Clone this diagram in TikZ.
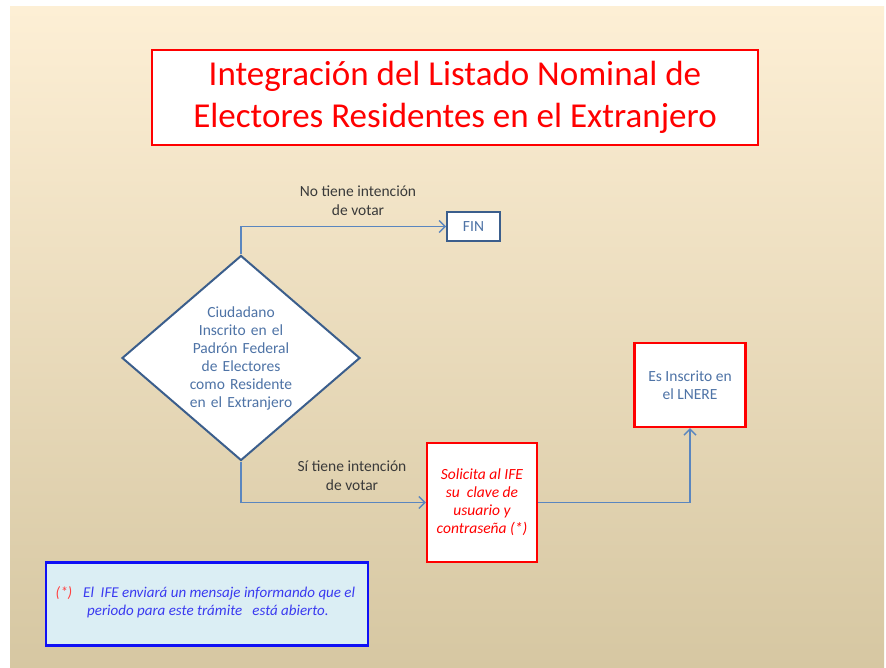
\documentclass[tikz,border=0pt]{standalone}
\usepackage{fontspec}
\setmainfont{Carlito}
\usepackage{tikz}
\usetikzlibrary{arrows,arrows.meta,backgrounds,shapes,positioning,fit}

\definecolor{fondoarriba}{HTML}{FDEFD5}
\definecolor{fondomedio}{HTML}{F3E8CE}
\definecolor{fondoabajo}{HTML}{D6C7A2}
\definecolor{bordeazul}{HTML}{3B5E8C}
\definecolor{textoazul}{HTML}{4E73A6}
\definecolor{lineaazul}{HTML}{5A86BF}
\definecolor{rojo}{HTML}{FF0000}
\definecolor{notafondo}{HTML}{DBEEF4}
\definecolor{notaborde}{HTML}{1010F5}
\definecolor{notatexto}{HTML}{3A3AF0}
\definecolor{etiqueta}{HTML}{3A3A3A}

\begin{document}
\begin{tikzpicture}[
        x=1pt, y=-1pt,
        titlebox/.style={draw=rojo, line width=1.2pt, fill=white, text=rojo,
          minimum width=606pt, minimum height=95pt, align=center,
          font=\fontsize{35}{42}\selectfont},
        pregunta/.style={diamond, aspect=1.16, draw=bordeazul, line width=2pt, fill=white,
          text=textoazul, minimum width=238pt, minimum height=205pt, inner sep=0pt,
          text width=106pt, align=center, font=\fontsize{15.5}{18}\selectfont},
        finbox/.style={draw=bordeazul, line width=1.6pt, fill=white, text=textoazul,
          minimum width=53pt, minimum height=29pt, font=\fontsize{15.5}{18}\selectfont},
        pasobox/.style={draw=rojo, line width=2.4pt, fill=white, align=center,
          font=\fontsize{15.5}{18}\selectfont},
        notabox/.style={draw=notaborde, line width=2.4pt, fill=notafondo,
          minimum width=322pt, minimum height=83pt},
        rotulo/.style={text=etiqueta, align=center, font=\fontsize{15.5}{19}\selectfont},
        flecha/.style={draw=lineaazul, line width=1.4pt,
          -{Straight Barb[length=6pt,width=12pt,line width=1.4pt]}}
      ]
        % fondo
        \fill[white] (0,0) rectangle (886,668);
        \shade[top color=fondoarriba, middle color=fondomedio, bottom color=fondoabajo]
          (10,7) rectangle (884,668);

        \node[titlebox] (titulo) at (455,97.5)
          {Integración del Listado Nominal de\\Electores Residentes en el Extranjero};

        \node[pregunta] (ciudadano) at (241,358)
          {Ciudadano\\Inscrito en el\\Padrón Federal\\de Electores\\como Residente\\en el Extranjero};
        \node[finbox] (fin) at (473.5,226.5) {FIN};
        \node[pasobox, text=rojo, minimum width=110pt, minimum height=119pt] (solicita) at (482,502.5)
          {\itshape Solicita al IFE\\\itshape su~ clave de\\\itshape usuario y\\\itshape contraseña (*)};
        \node[pasobox, text=textoazul, minimum width=111pt, minimum height=84pt] (inscrito) at (690,385)
          {Es Inscrito en\\el LNERE};

        % ramas
        \draw[flecha] (ciudadano.north) |- (fin.west);
        \node[rotulo] (nointencion) at (358,200.5) {No tiene intención\\de votar};
        \draw[flecha] (ciudadano.south) |- (solicita.west);
        \node[rotulo] (siintencion) at (352,476) {Sí tiene intención\\de votar};
        \draw[flecha] (solicita.east) -| (inscrito.south);

        % nota
        \node[notabox] (nota) at (207,604) {};
        \node[text=rojo!75, font=\fontsize{15}{18}\selectfont\itshape] (asterisco) at (64,593) {(*)};
        \node[text=notatexto, align=left, anchor=west, inner sep=0pt,
          font=\fontsize{15}{18}\selectfont\itshape] (notatxt) at (83,602)
          {El~ IFE enviará un mensaje informando que el\\\hspace*{4pt}periodo para este trámite~~ está abierto.};
\end{tikzpicture}
\end{document}
